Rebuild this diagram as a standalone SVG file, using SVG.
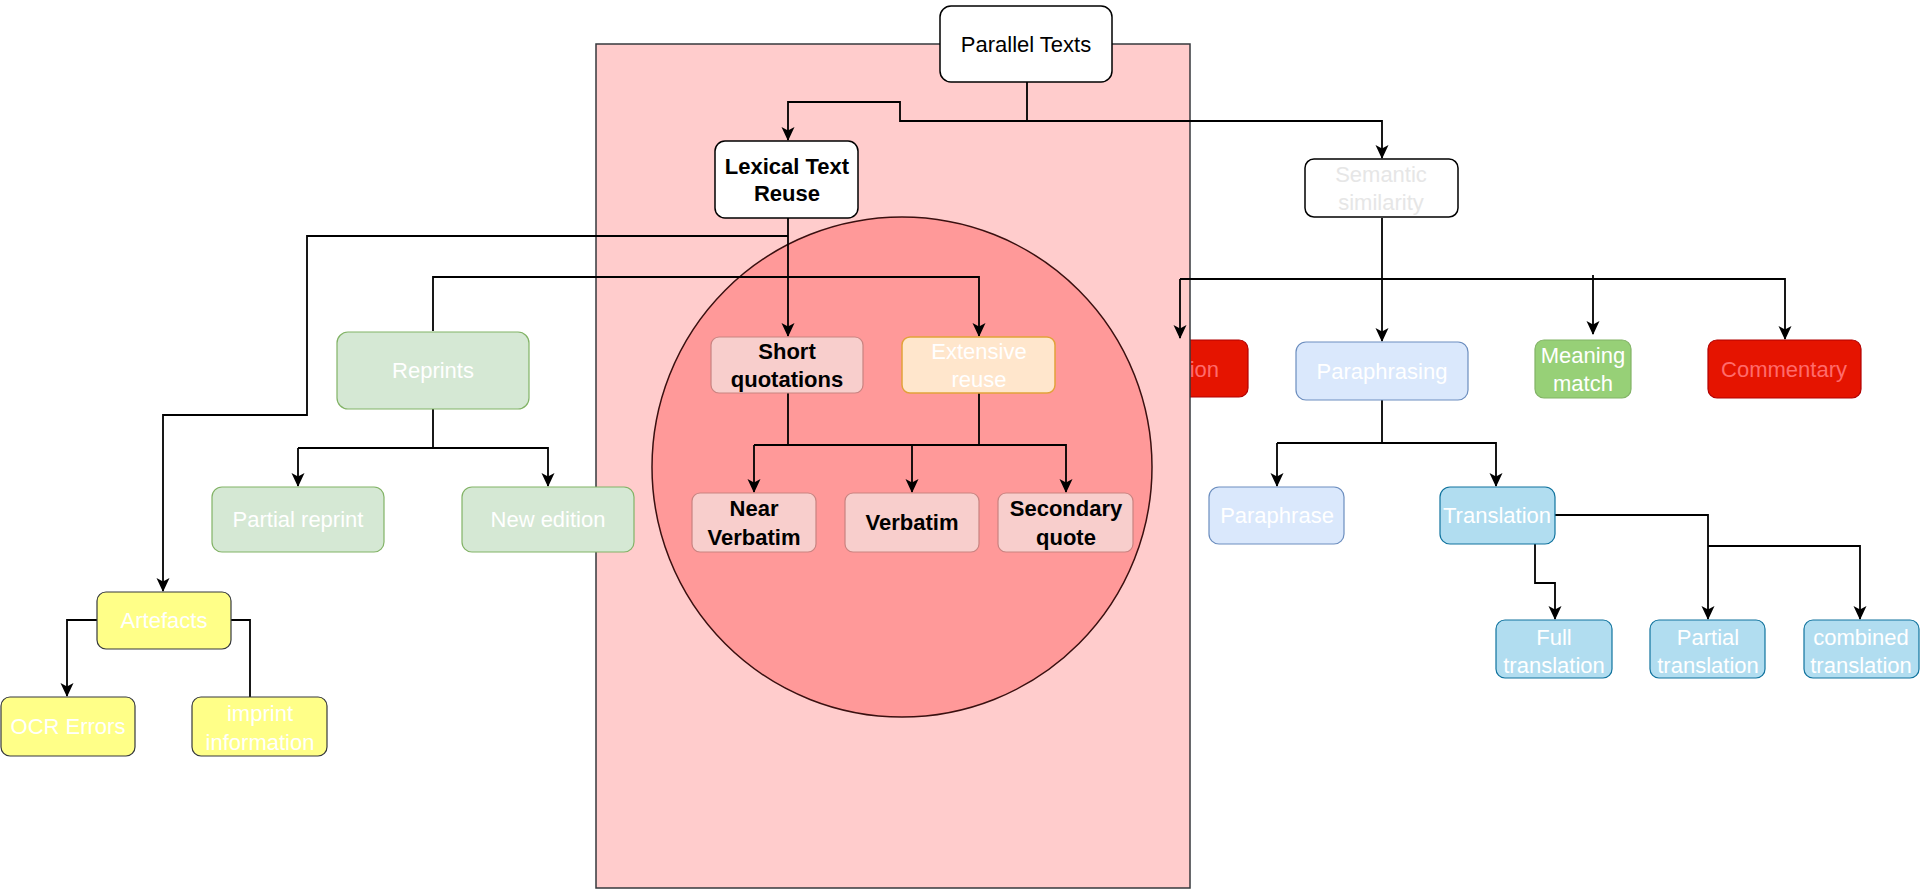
<svg xmlns="http://www.w3.org/2000/svg" width="1920" height="890" viewBox="0 0 1920 890">
  <defs>
    <marker id="arrow" viewBox="0 0 14 14" refX="13" refY="7" markerWidth="14" markerHeight="14" markerUnits="userSpaceOnUse" orient="auto">
      <path d="M0,0.5 L14,7 L0,13.5 L3.5,7 Z" fill="#000"/>
    </marker>
    <style>
      text { font-family: "Liberation Sans", Arial, sans-serif; font-size: 22px; text-anchor: middle; }
      .b { font-weight: bold; fill: #000; }
      .n { fill: #000; }
      .w { fill: #ffffff; }
      .pale { fill: #e6e6e6; }
      .redtxt { fill: #ff6b6b; }
      .edge { fill: none; stroke: #000; stroke-width: 1.8; }
      .arr { marker-end: url(#arrow); }
      .plain { fill: #ffffff; stroke: #000; stroke-width: 1.5; }
      .pink { fill: #f8cecc; stroke: #c98380; stroke-width: 1.2; }
      .orange { fill: #ffe6cc; stroke: #e2a23a; stroke-width: 1.5; }
      .green { fill: #d5e8d4; stroke: #82b366; stroke-width: 1.2; }
      .lime { fill: #97d077; stroke: #82b366; stroke-width: 1.2; }
      .yellow { fill: #ffff88; stroke: #36393d; stroke-width: 1.2; }
      .blue { fill: #dae8fc; stroke: #6c8ebf; stroke-width: 1.2; }
      .cyan { fill: #b1ddf0; stroke: #10739e; stroke-width: 1.2; }
      .red { fill: #e51400; stroke: #b20000; stroke-width: 1.2; }
    </style>
  </defs>

  <rect width="1920" height="890" fill="#ffffff"/>

  <!-- red category box, partly hidden behind the lexical panel -->
  <g id="node-hidden-red">
    <rect class="red" x="1110" y="340" width="138" height="57" rx="9"/>
    <text class="redtxt" x="1219" y="377" style="text-anchor:end">ion</text>
  </g>

  <!-- lexical panel and its circle -->
  <g id="lexical-panel">
    <rect x="596" y="44" width="594" height="844" fill="#ffcccc" stroke="#36393d" stroke-width="1.5"/>
    <circle cx="902" cy="467" r="250" fill="#ff9999" stroke="#3a1010" stroke-width="1.5"/>
  </g>

  <g id="connectors">
    <path class="edge arr" d="M1027,82 V121 H900 V102 H788 V140"/>
    <path class="edge arr" d="M1027,121 H1382 V158"/>
    <path class="edge arr" d="M788,218 V336"/>
    <path class="edge arr" d="M788,236 H307 V415 H163 V591"/>
    <path class="edge arr" d="M433,331 V277 H979 V336"/>
    <path class="edge" d="M433,409 V448"/>
    <path class="edge arr" d="M298,448 V486"/>
    <path class="edge arr" d="M298,448 H548 V486"/>
    <path class="edge" d="M788,393 V445"/>
    <path class="edge" d="M979,393 V445"/>
    <path class="edge arr" d="M754,445 V492"/>
    <path class="edge arr" d="M754,445 H1066 V492"/>
    <path class="edge arr" d="M912,445 V492"/>
    <path class="edge arr" d="M1382,218 V341"/>
    <path class="edge arr" d="M1180,279 V338"/>
    <path class="edge arr" d="M1180,279 H1785 V339"/>
    <path class="edge arr" d="M1593,275 V334"/>
    <path class="edge" d="M1382,400 V443"/>
    <path class="edge arr" d="M1277,443 V486"/>
    <path class="edge arr" d="M1277,443 H1496 V486"/>
    <path class="edge arr" d="M1535,544 V583 H1555 V619"/>
    <path class="edge arr" d="M1555,515 H1708 V619"/>
    <path class="edge arr" d="M1708,546 H1860 V619"/>
    <path class="edge arr" d="M97,620 H67 V696"/>
    <path class="edge" d="M231,620 H250 V697"/>
  </g>

  <g id="node-parallel-texts">
    <rect class="plain" x="940" y="6" width="172" height="76" rx="11"/>
    <text class="n" x="1026" y="52">Parallel Texts</text>
  </g>

  <g id="node-lexical">
    <rect class="plain" x="715" y="141" width="143" height="77" rx="10"/>
    <text class="b" x="787" y="174">Lexical Text</text>
    <text class="b" x="787" y="201">Reuse</text>
  </g>

  <g id="node-semantic">
    <rect class="plain" x="1305" y="159" width="153" height="58" rx="9"/>
    <text class="pale" x="1381" y="182">Semantic</text>
    <text class="pale" x="1381" y="210">similarity</text>
  </g>

  <g id="node-reprints">
    <rect class="green" x="337" y="332" width="192" height="77" rx="11"/>
    <text class="w" x="433" y="378">Reprints</text>
  </g>

  <g id="node-partial-reprint">
    <rect class="green" x="212" y="487" width="172" height="65" rx="10"/>
    <text class="w" x="298" y="527">Partial reprint</text>
  </g>

  <g id="node-new-edition">
    <rect class="green" x="462" y="487" width="172" height="65" rx="10"/>
    <text class="w" x="548" y="527">New edition</text>
  </g>

  <g id="node-short-quotations">
    <rect class="pink" x="711" y="337" width="152" height="56" rx="8"/>
    <text class="b" x="787" y="359">Short</text>
    <text class="b" x="787" y="387">quotations</text>
  </g>

  <g id="node-extensive-reuse">
    <rect class="orange" x="902" y="337" width="153" height="56" rx="8"/>
    <text class="w" x="979" y="359">Extensive</text>
    <text class="w" x="979" y="387">reuse</text>
  </g>

  <g id="node-near-verbatim">
    <rect class="pink" x="692" y="493" width="124" height="59" rx="8"/>
    <text class="b" x="754" y="516">Near</text>
    <text class="b" x="754" y="545">Verbatim</text>
  </g>

  <g id="node-verbatim">
    <rect class="pink" x="845" y="493" width="134" height="59" rx="8"/>
    <text class="b" x="912" y="530">Verbatim</text>
  </g>

  <g id="node-secondary-quote">
    <rect class="pink" x="998" y="493" width="135" height="59" rx="8"/>
    <text class="b" x="1066" y="516">Secondary</text>
    <text class="b" x="1066" y="545">quote</text>
  </g>

  <g id="node-paraphrasing">
    <rect class="blue" x="1296" y="342" width="172" height="58" rx="10"/>
    <text class="w" x="1382" y="379">Paraphrasing</text>
  </g>

  <g id="node-meaning-match">
    <rect class="lime" x="1535" y="340" width="96" height="58" rx="9"/>
    <text class="w" x="1583" y="363">Meaning</text>
    <text class="w" x="1583" y="391">match</text>
  </g>

  <g id="node-commentary">
    <rect class="red" x="1708" y="340" width="153" height="58" rx="9"/>
    <text class="redtxt" x="1784" y="377">Commentary</text>
  </g>

  <g id="node-paraphrase">
    <rect class="blue" x="1209" y="487" width="135" height="57" rx="10"/>
    <text class="w" x="1277" y="523">Paraphrase</text>
  </g>

  <g id="node-translation">
    <rect class="cyan" x="1440" y="487" width="115" height="57" rx="10"/>
    <text class="w" x="1497" y="523">Translation</text>
  </g>

  <g id="node-full-translation">
    <rect class="cyan" x="1496" y="620" width="116" height="58" rx="9"/>
    <text class="w" x="1554" y="645">Full</text>
    <text class="w" x="1554" y="673">translation</text>
  </g>

  <g id="node-partial-translation">
    <rect class="cyan" x="1650" y="620" width="115" height="58" rx="9"/>
    <text class="w" x="1708" y="645">Partial</text>
    <text class="w" x="1708" y="673">translation</text>
  </g>

  <g id="node-combined-translation">
    <rect class="cyan" x="1804" y="620" width="115" height="58" rx="9"/>
    <text class="w" x="1861" y="645">combined</text>
    <text class="w" x="1861" y="673">translation</text>
  </g>

  <g id="node-artefacts">
    <rect class="yellow" x="97" y="592" width="134" height="57" rx="9"/>
    <text class="w" x="164" y="628">Artefacts</text>
  </g>

  <g id="node-ocr-errors">
    <rect class="yellow" x="1" y="697" width="134" height="59" rx="9"/>
    <text class="w" x="68" y="734">OCR Errors</text>
  </g>

  <g id="node-imprint">
    <rect class="yellow" x="192" y="697" width="135" height="59" rx="9"/>
    <text class="w" x="260" y="721">imprint</text>
    <text class="w" x="260" y="750">information</text>
  </g>
</svg>
